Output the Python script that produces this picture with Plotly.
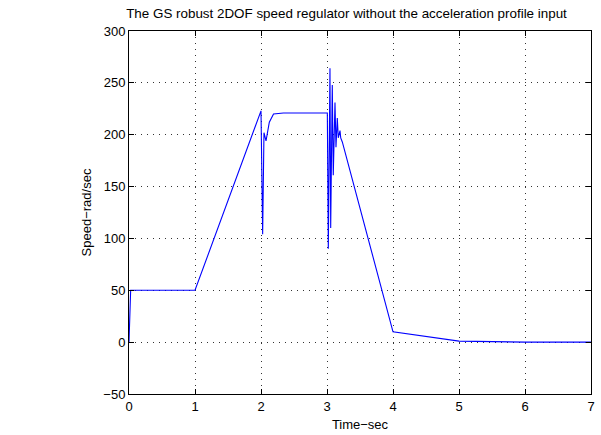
import plotly.graph_objects as go

time_sec = [0, 0.01, 0.025, 1.0, 2.0, 2.025, 2.045, 2.076, 2.096, 2.126, 2.19, 2.34,
            3.005, 3.02, 3.045, 3.056, 3.08, 3.095, 3.121, 3.136, 3.156, 3.171,
            3.197, 3.208, 3.232, 4.0, 5.0, 6.0, 7.0]
speed = [0, 35, 50, 50, 223, 104, 202, 194, 203, 212, 220, 221,
         221, 90, 264, 110, 248, 161, 231, 188, 216, 197,
         204, 197, 193, 10, 1, 0, 0]

x_ticks = [0, 1, 2, 3, 4, 5, 6, 7]
y_ticks = [-50, 0, 50, 100, 150, 200, 250, 300]
y_tick_labels = ["\u221250", "0", "50", "100", "150", "200", "250", "300"]

fig = go.Figure()
fig.add_trace(go.Scatter(x=time_sec, y=speed, mode="lines",
                         line=dict(color="#0000ff", width=1.1), showlegend=False))

font = "Liberation Sans, Arial, Helvetica, sans-serif"
axis_common = dict(
    showline=True, linecolor="black", linewidth=1, mirror="ticks",
    ticks="inside", ticklen=5, tickcolor="black", automargin=False,
    showgrid=True, gridcolor="#333", griddash="1px,5px", gridwidth=1,
    zeroline=False, tickfont=dict(size=13, color="black", family=font),
    ticklabeloverflow="allow",
)

fig.update_layout(
    width=601, height=435,
    margin=dict(l=129, r=10, t=31, b=41),
    paper_bgcolor="white", plot_bgcolor="white",
    font=dict(family=font, size=13, color="black"),
    title=dict(text="The GS robust 2DOF speed regulator without the acceleration profile input",
               x=346.5 / 601, xref="container", xanchor="center",
               y=1 - 13 / 435, yref="container", yanchor="middle",
               font=dict(size=13.4, color="black", family=font)),
    xaxis=dict(range=[0, 7], tickvals=x_ticks, ticktext=[str(v) for v in x_ticks],
               title=dict(text="Time\u2212sec", standoff=7, font=dict(size=13)), **axis_common),
    yaxis=dict(range=[-50, 300], tickvals=y_ticks, ticktext=y_tick_labels,
               title=dict(text="Speed\u2212rad/sec", standoff=8, font=dict(size=13)), **axis_common),
)

fig.write_html("out.html", config={"displayModeBar": False},
               post_script="document.body.style.margin='0';")
